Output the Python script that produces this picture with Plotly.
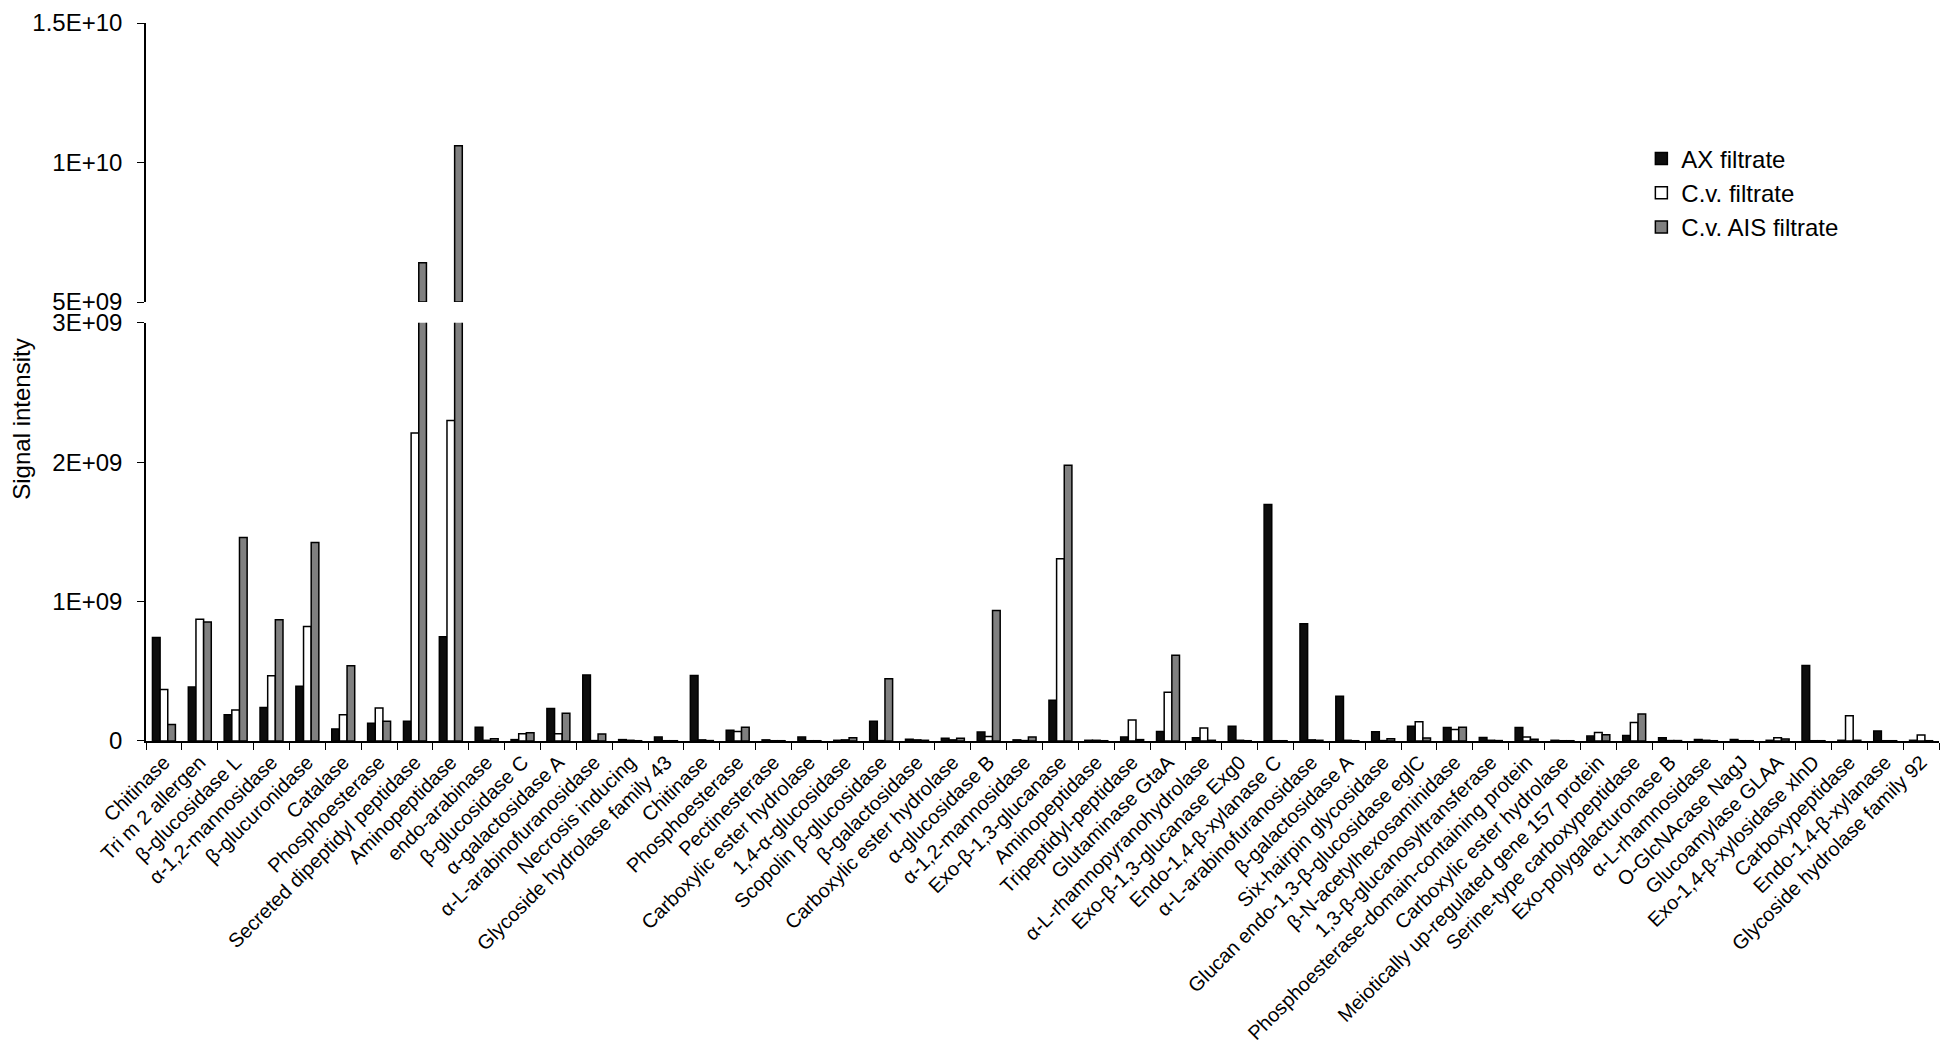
import numpy as np
import plotly.graph_objects as go

# enzyme / protein names along the x axis (some names repeat)
proteins = [
    "Chitinase", "Tri m 2 allergen", "β-glucosidase L", "α-1,2-mannosidase",
    "β-glucuronidase", "Catalase", "Phosphoesterase", "Secreted dipeptidyl peptidase",
    "Aminopeptidase", "endo-arabinase", "β-glucosidase C", "α-galactosidase A",
    "α-L-arabinofuranosidase", "Necrosis inducing", "Glycoside hydrolase family 43",
    "Chitinase", "Phosphoesterase", "Pectinesterase", "Carboxylic ester hydrolase",
    "1,4-α-glucosidase", "Scopolin β-glucosidase", "β-galactosidase",
    "Carboxylic ester hydrolase", "α-glucosidase B", "α-1,2-mannosidase",
    "Exo-β-1,3-glucanase", "Aminopeptidase", "Tripeptidyl-peptidase", "Glutaminase GtaA",
    "α-L-rhamnopyranohydrolase", "Exo-β-1,3-glucanase Exg0", "Endo-1,4-β-xylanase C",
    "α-L-arabinofuranosidase", "β-galactosidase A", "Six-hairpin glycosidase",
    "Glucan endo-1,3-β-glucosidase eglC", "β-N-acetylhexosaminidase",
    "1,3-β-glucanosyltransferase", "Phosphoesterase-domain-containing protein",
    "Carboxylic ester hydrolase", "Meiotically up-regulated gene 157 protein",
    "Serine-type carboxypeptidase", "Exo-polygalacturonase B", "α-L-rhamnosidase",
    "O-GlcNAcase NagJ", "Glucoamylase GLAA", "Exo-1,4-β-xylosidase xlnD",
    "Carboxypeptidase", "Endo-1,4-β-xylanase", "Glycoside hydrolase family 92",
]

# signal intensity, in units of 1E+09
ax_filtrate = [
    0.743, 0.387, 0.189, 0.241, 0.392, 0.087, 0.127, 0.142, 0.748, 0.099,
    0.010, 0.233, 0.474, 0.010, 0.028, 0.470, 0.078, 0.008, 0.028, 0.005,
    0.141, 0.012, 0.019, 0.064, 0.008, 0.292, 0.005, 0.028, 0.068, 0.024,
    0.106, 1.696, 0.842, 0.321, 0.066, 0.106, 0.097, 0.026, 0.097, 0.005,
    0.035, 0.040, 0.023, 0.011, 0.011, 0.005, 0.542, 0.005, 0.072, 0.005,
]
cv_filtrate = [
    0.370, 0.873, 0.222, 0.469, 0.821, 0.189, 0.236, 2.210, 2.300, 0.005,
    0.052, 0.052, 0.003, 0.005, 0.002, 0.008, 0.068, 0.002, 0.002, 0.008,
    0.003, 0.008, 0.008, 0.033, 0.003, 1.307, 0.005, 0.151, 0.349, 0.094,
    0.005, 0.002, 0.008, 0.005, 0.003, 0.139, 0.083, 0.005, 0.028, 0.002,
    0.061, 0.132, 0.003, 0.005, 0.002, 0.023, 0.002, 0.182, 0.002, 0.043,
]
cv_ais_filtrate = [
    0.118, 0.854, 1.460, 0.870, 1.425, 0.540, 0.142, 6.410, 10.60, 0.016,
    0.059, 0.200, 0.050, 0.002, 0.002, 0.003, 0.099, 0.002, 0.002, 0.024,
    0.446, 0.005, 0.019, 0.936, 0.028, 1.979, 0.002, 0.010, 0.616, 0.005,
    0.002, 0.002, 0.005, 0.002, 0.017, 0.021, 0.099, 0.003, 0.012, 0.002,
    0.045, 0.193, 0.003, 0.002, 0.002, 0.015, 0.002, 0.005, 0.002, 0.002,
]

series = [
    ("AX filtrate", ax_filtrate, "#0d0d0d"),
    ("C.v. filtrate", cv_filtrate, "#ffffff"),
    ("C.v. AIS filtrate", cv_ais_filtrate, "#808080"),
]

# broken axis: lower panel 0..3E+09, upper panel 5E+09..1.5E+10
LOW_MAX = 3e9
HIGH_MIN = 5e9
HIGH_MAX = 1.5e10

# repeated names need unique category keys
seen = {}
cats = []
for p in proteins:
    n = seen.get(p, 0)
    cats.append(p + "\u200b" * n)
    seen[p] = n + 1

FONT = "Arial, Liberation Sans, sans-serif"

fig = go.Figure()
for name, vals, color in series:
    v = np.array(vals) * 1e9
    fig.add_trace(go.Bar(
        x=cats, y=v, name=name, xaxis="x", yaxis="y",
        marker=dict(color=color, line=dict(color="black", width=1.5)),
    ))
for name, vals, color in series:
    v = np.array(vals) * 1e9
    top = [val - HIGH_MIN if val > HIGH_MIN else None for val in v]
    fig.add_trace(go.Bar(
        x=cats, y=top, base=HIGH_MIN, name=name, xaxis="x2", yaxis="y2",
        showlegend=False,
        marker=dict(color=color, line=dict(color="black", width=1.5)),
    ))

# page body has an 8px margin, so the figure is sized to fit inside it
fig.update_layout(
    width=1932, height=1037,
    margin=dict(l=138, r=1, t=8, b=301),
    paper_bgcolor="white", plot_bgcolor="white",
    barmode="group", bargap=0.36, bargroupgap=0,
    font=dict(family=FONT, color="black", size=20),
    xaxis=dict(
        domain=[0, 1], anchor="y", type="category", categoryorder="array",
        categoryarray=cats, range=[-0.5, len(cats) - 0.5],
        showline=True, linecolor="black", linewidth=1.5,
        ticks="outside", tickson="boundaries", ticklen=7, tickcolor="black",
        tickangle=-45, tickfont=dict(size=20), showgrid=False,
    ),
    xaxis2=dict(
        domain=[0, 1], anchor="y2", matches="x", visible=False,
    ),
    yaxis=dict(
        domain=[0, 0.5824], range=[0, LOW_MAX],
        tickvals=[0, 1e9, 2e9, 3e9], ticktext=["0", "1E+09", "2E+09", "3E+09"],
        showline=True, linecolor="black", linewidth=1.5,
        ticks="outside", ticklen=7, tickcolor="black",
        tickfont=dict(size=24), showgrid=False, zeroline=False,
        ticklabelstandoff=10,
    ),
    yaxis2=dict(
        domain=[0.6113, 1], range=[HIGH_MIN, HIGH_MAX], anchor="x2",
        tickvals=[5e9, 1e10, 1.5e10], ticktext=["5E+09", "1E+10", "1.5E+10"],
        showline=True, linecolor="black", linewidth=1.5,
        ticks="outside", ticklen=7, tickcolor="black",
        tickfont=dict(size=24), showgrid=False, zeroline=False,
        ticklabelstandoff=10,
    ),
    legend=dict(
        x=0.834, y=0.842, xanchor="left", yanchor="top",
        font=dict(size=24), bgcolor="rgba(0,0,0,0)",
    ),
    annotations=[dict(
        text="Signal intensity", textangle=-90, showarrow=False,
        xref="paper", yref="paper", x=-0.0695, y=0.448,
        xanchor="center", yanchor="middle", font=dict(size=24),
    )],
)

fig.write_html("out.html")
